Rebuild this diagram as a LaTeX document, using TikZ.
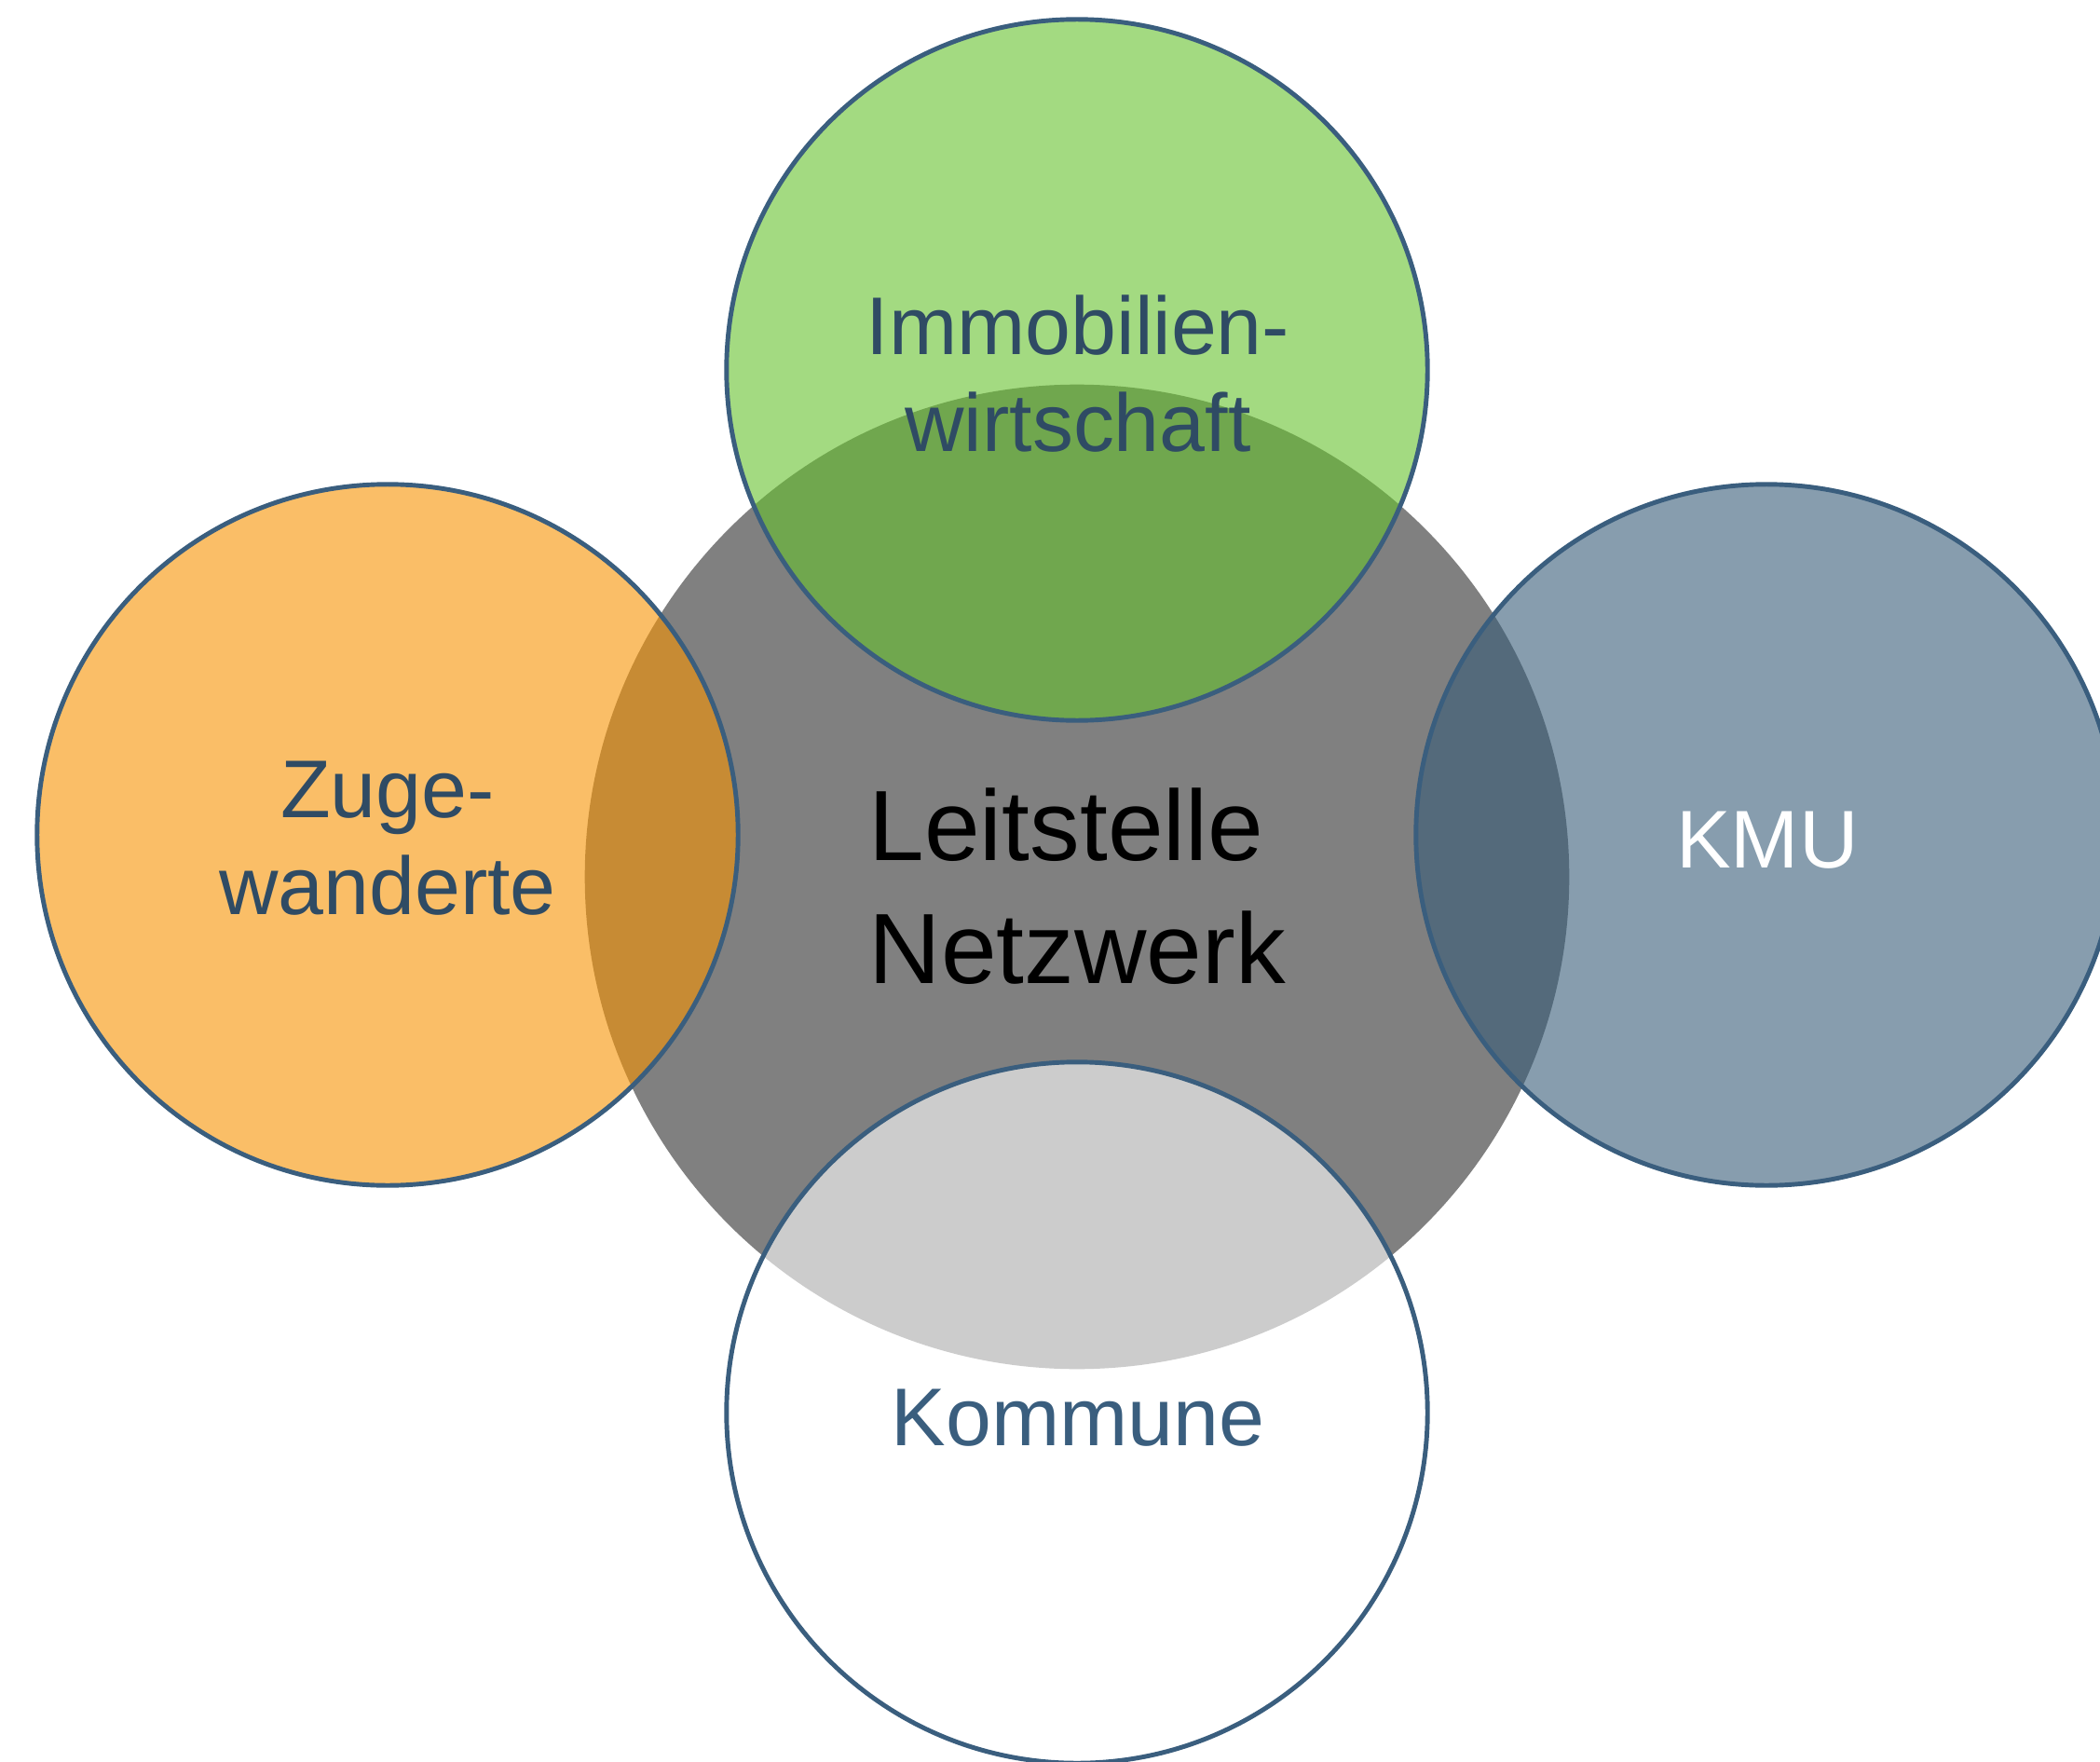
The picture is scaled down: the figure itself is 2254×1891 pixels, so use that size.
\documentclass[tikz,border=0pt]{standalone}
\usepackage{fontspec}
\setmainfont{Liberation Sans}
\usetikzlibrary{positioning}
\definecolor{rim}{HTML}{3A5E7E}
\definecolor{hub}{HTML}{808080}
\definecolor{leaf}{HTML}{66C12D}
\definecolor{sun}{HTML}{F79302}
\definecolor{slate}{HTML}{375C78}
\definecolor{ink}{HTML}{2F4B64}
\tikzset{member/.style={draw=rim, line width=1.4pt, fill opacity=0.6, draw opacity=1},
    hubtext/.style={font=\fontsize{30.5}{37.5}\selectfont, inner sep=0pt, align=left, anchor=base west},
    circtext/.style={font=\fontsize{25}{29.3}\selectfont, inner sep=0pt, align=center, anchor=base}}

\begin{document}
\begin{tikzpicture}[x=0.01cm, y=-0.01cm]
        \useasboundingbox (0,0) rectangle (2254,1891);
        \fill[hub] (1156,941) circle (5.28cm);
        \draw[member, fill=leaf] (1156,397) circle (3.76cm);
        \draw[member, fill=sun] (416,896) circle (3.76cm);
        \draw[member, fill=slate] (1896,896) circle (3.76cm);
        \draw[member, fill=white] (1156,1516) circle (3.76cm);
        % base anchor sits on the last line
        \node[hubtext] (leitstelle) at (932,1055) {Leitstelle\\Netzwerk};
        \node[circtext, text=ink] (immo) at (1157,484) {Immobilien-\\wirtschaft};
        \node[circtext, text=ink] (zuge) at (416,981) {Zuge-\\wanderte};
        \node[circtext, text=white] (kmu) at (1897,931) {KMU};
        \node[circtext, text=rim] (kommune) at (1157,1551) {Kommune};
    \end{tikzpicture}
\end{document}
